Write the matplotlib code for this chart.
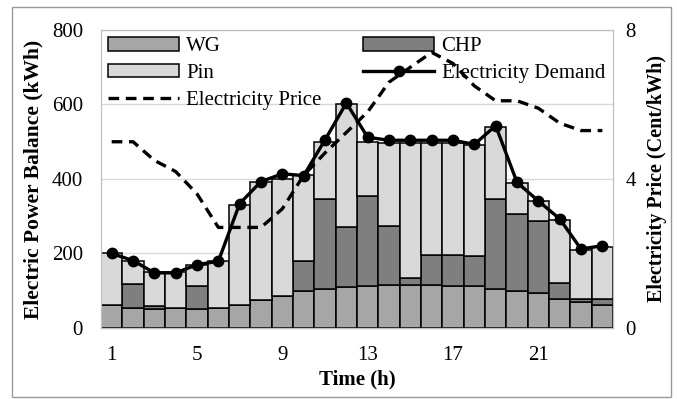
import matplotlib
matplotlib.use("Agg")
import matplotlib.pyplot as plt
from matplotlib.patches import Rectangle

plt.rcParams["font.family"] = "Liberation Serif"

hours = list(range(1, 25))
wg = [62, 54, 52, 54, 50, 54, 62, 74, 86, 99, 105, 111,
      114, 116, 116, 116, 114, 112, 105, 100, 93, 77, 70, 61]
chp = [0, 65, 8, 0, 64, 0, 0, 0, 0, 80, 240, 161,
       241, 159, 18, 80, 81, 81, 241, 205, 193, 44, 9, 16]
total = [200, 180, 150, 150, 168, 180, 330, 392, 400, 410, 500, 600,
         500, 497, 497, 497, 497, 490, 540, 390, 341, 290, 210, 218]
demand = [200, 181, 148, 148, 170, 179, 334, 393, 414, 409, 505, 604,
          512, 504, 504, 504, 504, 493, 543, 391, 341, 293, 212, 221]
price = [5.0, 5.0, 4.5, 4.2, 3.6, 2.7, 2.7, 2.7, 3.2, 4.1, 4.7, 5.25,
         5.8, 6.6, 7.0, 7.4, 7.1, 6.5, 6.1, 6.1, 5.9, 5.5, 5.3, 5.3]
pin = [t - w - c for t, w, c in zip(total, wg, chp)]

fig = plt.figure(figsize=(6.77, 3.99), dpi=100)
ax = fig.add_axes([0.1492, 0.178, 0.7563, 0.7468])
ax2 = ax.twinx()

kw = dict(width=1.0, edgecolor="black", linewidth=1.1)
b1 = ax.bar(hours, wg, color="#a6a6a6", label="WG", **kw)
b2 = ax.bar(hours, chp, bottom=wg, color="#7f7f7f", label="CHP", **kw)
bot = [w + c for w, c in zip(wg, chp)]
b3 = ax.bar(hours, pin, bottom=bot, color="#d9d9d9", label="Pin", **kw)
l1, = ax.plot(hours, demand, color="black", lw=2.4, marker="o", ms=7.5,
              label="Electricity Demand", zorder=5)
l2, = ax2.plot(hours, price, color="black", lw=2.4, ls=(0, (3.2, 2)),
               label="Electricity Price")

ax.set_xlim(0.5, 24.5)
ax.set_ylim(0, 800)
ax2.set_ylim(0, 8)
ax.set_yticks([0, 200, 400, 600, 800])
ax2.set_yticks([0, 4, 8])
ax.set_xticks([1, 5, 9, 13, 17, 21])
ax.grid(axis="y", color="#d9d9d9", lw=1)
ax.set_axisbelow(True)
ax.tick_params(axis="y", length=0, labelsize=15, pad=13)
ax.tick_params(axis="x", length=0, labelsize=15, pad=13)
ax2.tick_params(axis="y", length=0, labelsize=15, pad=9)
for a in (ax, ax2):
    for s in a.spines.values():
        s.set_color("#bfbfbf")
ax.spines["bottom"].set_color("#404040")

ax.set_xlabel("Time (h)", fontsize=15, fontweight="bold", labelpad=3)
ax.set_ylabel("Electric Power Balance (kWh)", fontsize=15.5, fontweight="bold", labelpad=6)
ax2.set_ylabel("Electricity Price (Cent/kWh)", fontsize=14.5, fontweight="bold", labelpad=8)

ax.legend(handles=[b1, b3, l2, b2, l1], ncol=2, loc="upper left",
          bbox_to_anchor=(0.0, 1.0), frameon=False, fontsize=15,
          handlelength=3.4, handleheight=0.6, handletextpad=0.35,
          labelspacing=0.37, columnspacing=2.0, borderaxespad=0.1,
          borderpad=0.25)

fig.patches.append(Rectangle((0.018, 0.005), 0.973, 0.978, transform=fig.transFigure,
                             fill=False, edgecolor="#999999", lw=1))

fig.savefig("out.png", dpi=100)
